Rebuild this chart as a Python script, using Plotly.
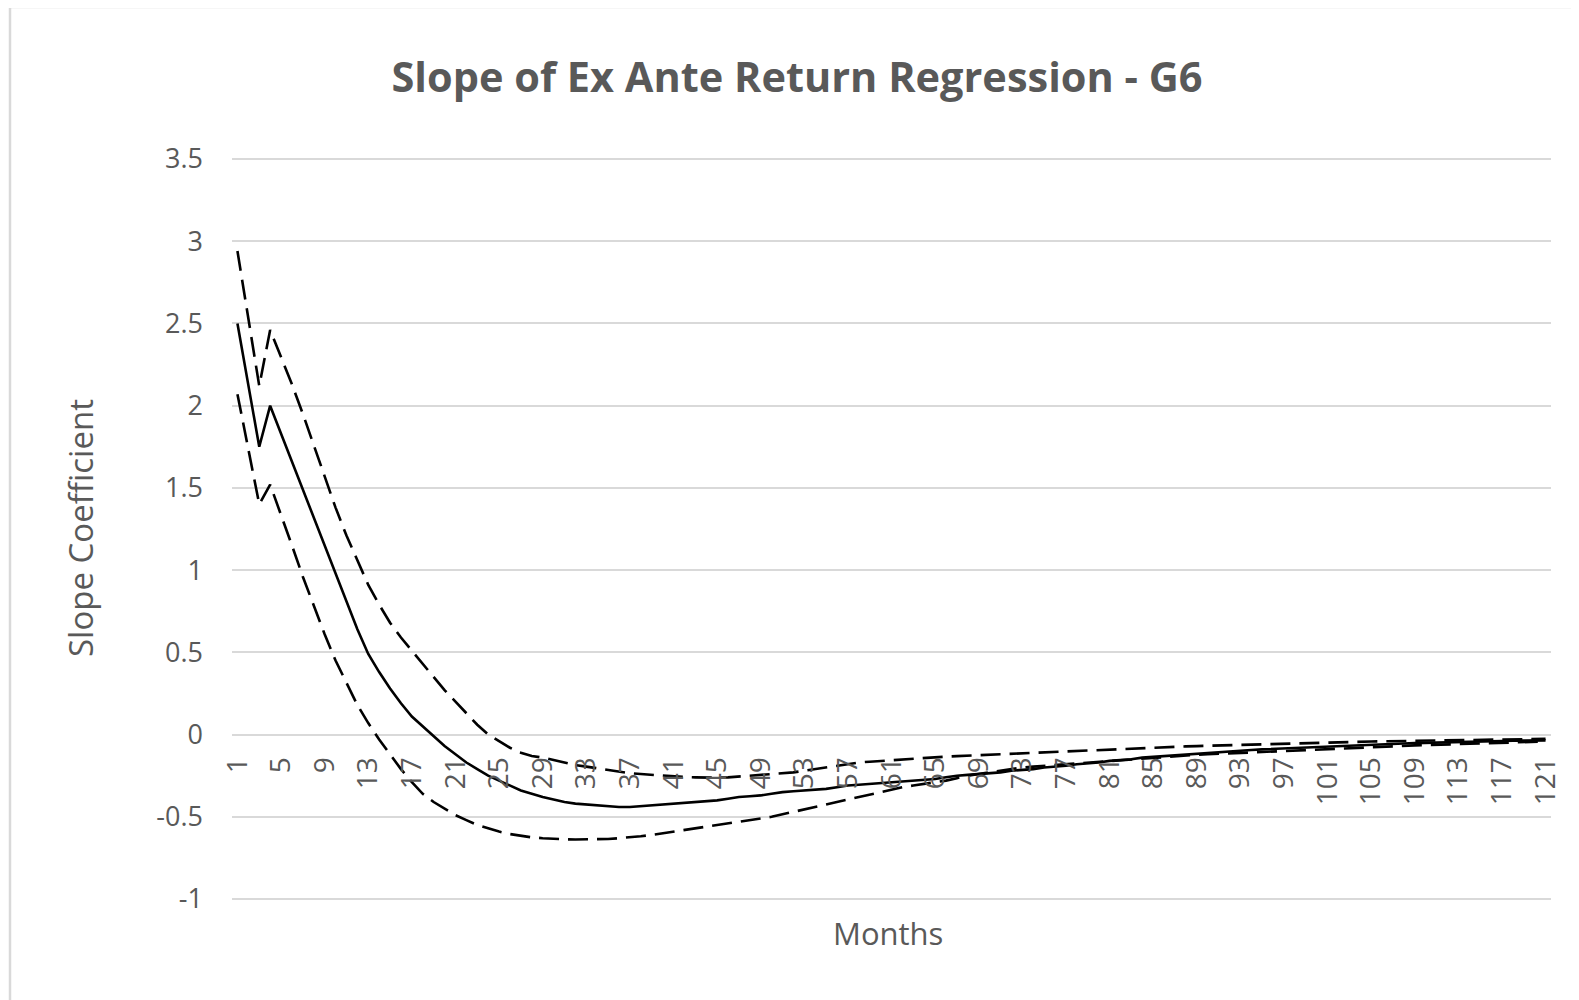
import plotly.graph_objects as go

months = list(range(1, 122))
tick_months = list(range(1, 122, 4))

slope = [
    2.50, 2.12, 1.75, 2.00, 1.83, 1.66, 1.49, 1.32, 1.15, 0.97,
    0.80, 0.64, 0.49, 0.38, 0.28, 0.19, 0.11, 0.05, -0.01, -0.07,
    -0.12, -0.17, -0.21, -0.25, -0.28, -0.31, -0.34, -0.36, -0.38, -0.395,
    -0.41, -0.42, -0.425, -0.43, -0.435, -0.44, -0.44, -0.435, -0.43, -0.425,
    -0.42, -0.415, -0.41, -0.405, -0.40, -0.39, -0.38, -0.375, -0.37, -0.36,
    -0.35, -0.345, -0.34, -0.335, -0.33, -0.32, -0.31, -0.305, -0.30, -0.295,
    -0.29, -0.285, -0.28, -0.275, -0.27, -0.26, -0.25, -0.245, -0.24, -0.235,
    -0.23, -0.22, -0.215, -0.21, -0.20, -0.195, -0.19, -0.18, -0.175, -0.17,
    -0.16, -0.155, -0.15, -0.14, -0.135, -0.13, -0.125, -0.12, -0.115, -0.11,
    -0.105, -0.10, -0.097, -0.094, -0.09, -0.087, -0.084, -0.08, -0.077, -0.074,
    -0.071, -0.068, -0.066, -0.063, -0.06, -0.058, -0.056, -0.054, -0.052, -0.05,
    -0.048, -0.046, -0.045, -0.043, -0.042, -0.04, -0.039, -0.038, -0.037, -0.036, -0.035,
]

upper = [
    2.94, 2.53, 2.12, 2.46, 2.30, 2.13, 1.95, 1.76, 1.57, 1.38,
    1.21, 1.06, 0.91, 0.79, 0.68, 0.59, 0.51, 0.43, 0.35, 0.27,
    0.20, 0.13, 0.06, 0.00, -0.04, -0.08, -0.11, -0.13, -0.14, -0.155,
    -0.17, -0.185, -0.195, -0.205, -0.215, -0.225, -0.235, -0.24, -0.245, -0.25,
    -0.255, -0.258, -0.26, -0.262, -0.262, -0.26, -0.255, -0.25, -0.245, -0.24,
    -0.235, -0.23, -0.22, -0.21, -0.20, -0.19, -0.18, -0.17, -0.165, -0.16,
    -0.155, -0.15, -0.145, -0.14, -0.137, -0.134, -0.131, -0.128, -0.125, -0.122,
    -0.119, -0.116, -0.113, -0.11, -0.107, -0.104, -0.101, -0.098, -0.095, -0.092,
    -0.089, -0.086, -0.083, -0.08, -0.078, -0.076, -0.074, -0.072, -0.07, -0.068,
    -0.066, -0.064, -0.062, -0.06, -0.058, -0.056, -0.054, -0.052, -0.05, -0.048,
    -0.046, -0.045, -0.044, -0.043, -0.042, -0.041, -0.04, -0.039, -0.038, -0.037,
    -0.036, -0.035, -0.034, -0.033, -0.032, -0.031, -0.03, -0.029, -0.028, -0.027, -0.026,
]

lower = [
    2.07, 1.73, 1.40, 1.52, 1.34, 1.15, 0.96, 0.78, 0.61, 0.45,
    0.31, 0.18, 0.07, -0.03, -0.12, -0.21, -0.29, -0.36, -0.41, -0.45,
    -0.49, -0.52, -0.55, -0.57, -0.59, -0.605, -0.615, -0.625, -0.63, -0.635,
    -0.637, -0.638, -0.638, -0.637, -0.635, -0.63, -0.625, -0.618, -0.61, -0.60,
    -0.59, -0.58, -0.57, -0.56, -0.55, -0.54, -0.53, -0.52, -0.51, -0.50,
    -0.485, -0.47, -0.455, -0.44, -0.425, -0.41, -0.395, -0.38, -0.365, -0.35,
    -0.335, -0.32, -0.31, -0.30, -0.29, -0.28, -0.265, -0.25, -0.24, -0.23,
    -0.22, -0.21, -0.20, -0.195, -0.19, -0.185, -0.18, -0.175, -0.17, -0.165,
    -0.16, -0.155, -0.15, -0.145, -0.14, -0.135, -0.13, -0.127, -0.123, -0.12,
    -0.117, -0.114, -0.111, -0.108, -0.105, -0.102, -0.099, -0.096, -0.093, -0.09,
    -0.087, -0.084, -0.081, -0.078, -0.075, -0.072, -0.07, -0.068, -0.066, -0.064,
    -0.062, -0.06, -0.058, -0.056, -0.054, -0.052, -0.05, -0.048, -0.046, -0.044, -0.042,
]

y_ticks = [-1, -0.5, 0, 0.5, 1, 1.5, 2, 2.5, 3, 3.5]
y_tick_text = ["-1", "-0.5", "0", "0.5", "1", "1.5", "2", "2.5", "3", "3.5"]

title_text = "Slope of Ex Ante Return Regression - G6"
x_title = "Months"
y_title = "Slope Coefficient"

FONT = "Open Sans"
GRAY = "#595959"

fig = go.Figure()
fig.add_trace(go.Scatter(x=months, y=upper, mode="lines", name="Upper",
                         line=dict(color="black", width=2.6, dash="20px,9px")))
fig.add_trace(go.Scatter(x=months, y=slope, mode="lines", name="Slope",
                         line=dict(color="black", width=2.6)))
fig.add_trace(go.Scatter(x=months, y=lower, mode="lines", name="Lower",
                         line=dict(color="black", width=2.6, dash="20px,9px")))

# page offset of the figure inside the browser window
OFF = 8
W, H = 1579, 1000
Y_MIN, Y_MAX, PAD = -1.0, 3.5, 0.012
unit = 740 / (Y_MAX - Y_MIN)          # pixels per y unit
L = 232 - OFF
T = round(159 - OFF - PAD * unit)
pw = 1319
ph = round((Y_MAX - Y_MIN + 2 * PAD) * unit)
R, B = W - L - pw, H - T - ph

def px(x):
    return (x - OFF - L) / pw

def py(y):
    return (T + ph - (y - OFF)) / ph

fig.update_layout(
    width=W, height=H,
    margin=dict(l=L, r=R, t=T, b=B, autoexpand=False),
    paper_bgcolor="white", plot_bgcolor="white",
    showlegend=False,
    font=dict(family=FONT, color=GRAY),
    title=dict(text=title_text, x=(797 - OFF) / W, xref="container", xanchor="center",
               y=1 - (77 - OFF) / H, yref="container", yanchor="middle",
               font=dict(family=FONT, size=41.5, color=GRAY, weight=700)),
    xaxis=dict(range=[0.5, 121.5], tickmode="array", tickvals=tick_months,
               ticktext=[str(m) for m in tick_months], tickangle=-90,
               showgrid=False, zeroline=False, showline=False, ticks="",
               anchor="free", position=(0 - (Y_MIN - PAD)) / (Y_MAX - Y_MIN + 2 * PAD),
               ticklabelstandoff=16,
               tickfont=dict(family=FONT, size=28, color=GRAY)),
    yaxis=dict(range=[Y_MIN - PAD, Y_MAX + PAD], tickmode="array", tickvals=y_ticks,
               ticktext=y_tick_text,
               showgrid=True, gridcolor="#d9d9d9", gridwidth=1.5, zeroline=False,
               showline=False, ticks="", ticklabelstandoff=28,
               tickfont=dict(family=FONT, size=27, color=GRAY)),
    annotations=[
        dict(text=x_title, x=px(888), y=py(933), xref="paper", yref="paper",
             xanchor="center", yanchor="middle",
             showarrow=False, font=dict(family=FONT, size=31, color=GRAY)),
        dict(text=y_title, x=px(80), y=py(528), xref="paper", yref="paper",
             xanchor="center", yanchor="middle",
             showarrow=False, textangle=-90, font=dict(family=FONT, size=33, color=GRAY)),
    ],
    shapes=[
        dict(type="rect", xref="paper", yref="paper",
             x0=px(10), x1=px(1620), y0=py(1030), y1=py(7),
             line=dict(color="#d9d9d9", width=2.5), fillcolor="rgba(0,0,0,0)", layer="below"),
    ],
)

fig.write_html("out.html")
